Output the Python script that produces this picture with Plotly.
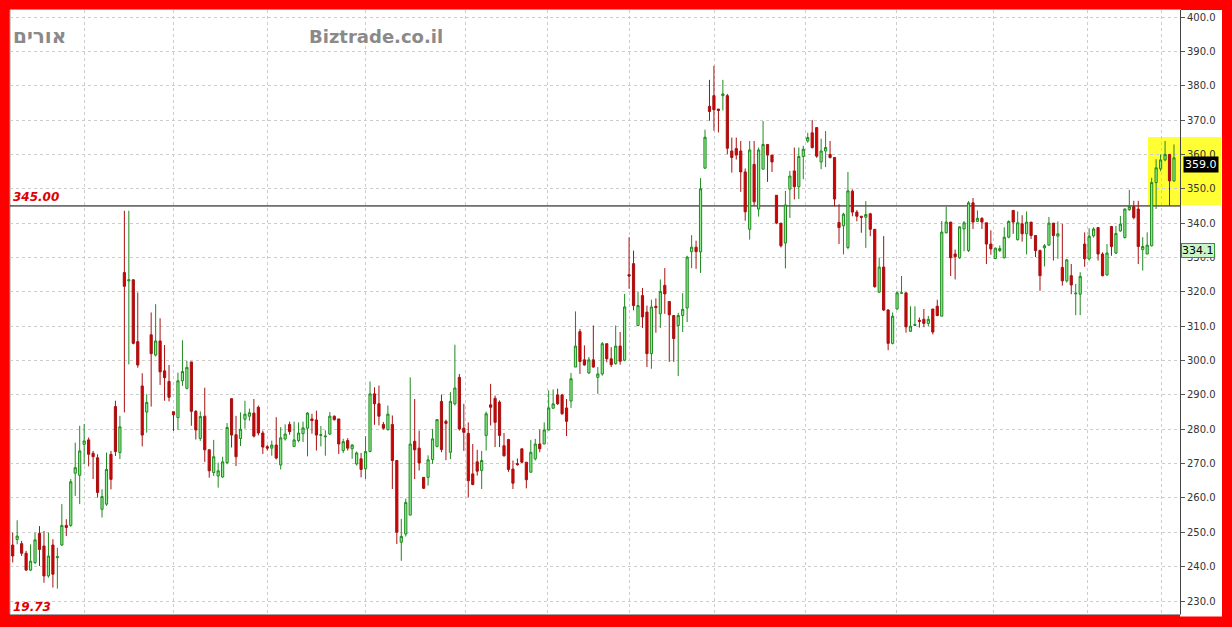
import plotly.graph_objects as go

# ---------------- data ----------------
opens = [246.3, 247.9, 246.7, 243.9, 239.0, 241.2, 249.7, 246.0, 237.3, 246.3,
         242.6, 246.3, 252.0, 252.0, 267.2, 266.6, 275.6, 276.9, 273.0, 271.7,
         256.7, 258.2, 272.7, 286.6, 273.2, 325.6, 323.2, 323.5, 305.5, 292.6,
         285.0, 307.5, 301.6, 305.7, 297.0, 293.9, 285.1, 283.4, 294.1, 291.9,
         299.6, 285.2, 277.3, 283.8, 274.0, 267.4, 266.4, 266.1, 270.3, 288.9,
         278.4, 277.3, 282.9, 283.8, 284.7, 286.4, 278.9, 274.9, 274.5, 275.4,
         269.6, 277.2, 281.4, 275.0, 276.7, 278.7, 280.3, 283.0, 282.7, 278.2,
         277.8, 278.6, 283.8, 283.0, 273.8, 276.7, 274.3, 269.9, 271.4, 268.5,
         273.5, 290.3, 287.4, 281.4, 279.9, 281.4, 270.9, 247.1, 249.5, 255.0,
         276.5, 274.5, 266.0, 266.0, 271.2, 275.0, 288.1, 282.3, 273.3, 287.4,
         295.1, 280.3, 278.8, 267.0, 270.5, 268.0, 278.2, 287.1, 289.0, 287.9,
         275.2, 277.0, 268.4, 270.0, 274.3, 270.4, 267.5, 271.4, 275.7, 275.7,
         279.8, 286.1, 290.0, 290.0, 286.2, 288.2, 298.1, 308.4, 300.2, 296.4,
         300.2, 295.1, 296.1, 304.9, 300.5, 299.1, 304.2, 300.1, 325.0, 328.2,
         310.2, 318.9, 314.1, 302.0, 315.8, 313.6, 321.9, 317.2, 313.1, 310.2,
         313.1, 315.3, 331.7, 333.0, 331.6, 356.0, 374.0, 377.1, 373.2, 377.1,
         377.1, 361.0, 361.7, 361.0, 354.9, 338.2, 357.1, 344.1, 355.7, 362.9,
         359.8, 348.1, 340.0, 334.2, 349.9, 355.2, 350.6, 359.4, 363.9, 366.3,
         367.8, 357.8, 361.0, 360.0, 359.1, 340.2, 339.2, 332.9, 349.3, 343.2,
         342.0, 341.7, 342.7, 338.2, 319.9, 327.2, 314.7, 305.0, 315.0, 319.6,
         319.7, 308.5, 310.2, 311.7, 312.0, 310.8, 315.0, 315.8, 312.9, 337.2,
         340.3, 331.0, 329.9, 338.3, 332.0, 345.9, 340.5, 341.4, 340.1, 333.9,
         329.7, 332.0, 329.9, 335.9, 343.7, 335.2, 339.8, 336.9, 340.3, 336.4,
         332.0, 332.8, 333.6, 340.0, 336.2, 327.1, 323.2, 324.7, 319.4, 319.3,
         333.9, 329.6, 336.3, 338.7, 331.0, 324.9, 339.0, 331.3, 337.7, 335.8,
         343.9, 344.8, 344.1, 332.3, 331.0, 333.4, 351.8, 355.8, 358.4, 360.0,
         352.3]
highs = [249.9, 253.5, 247.5, 244.6, 246.5, 249.9, 251.8, 250.4, 249.9, 248.0,
         245.5, 258.2, 253.8, 265.5, 276.1, 281.0, 281.5, 277.6, 273.7, 272.7,
         262.5, 273.2, 273.7, 288.3, 283.9, 343.6, 343.6, 323.6, 319.8, 296.3,
         290.2, 314.0, 316.4, 312.3, 304.5, 298.7, 285.1, 296.5, 305.9, 299.9,
         299.6, 285.6, 285.2, 292.1, 274.2, 276.9, 270.3, 272.0, 281.8, 288.9,
         283.9, 284.9, 288.3, 286.0, 288.8, 286.9, 279.6, 275.4, 276.7, 283.5,
         280.6, 281.4, 282.2, 282.2, 282.0, 282.2, 285.0, 284.5, 285.4, 280.9,
         279.7, 285.0, 284.0, 283.0, 277.2, 277.4, 275.7, 273.5, 273.1, 278.0,
         293.9, 292.2, 292.7, 282.1, 286.9, 284.0, 270.9, 253.9, 259.8, 295.1,
         288.8, 279.6, 266.0, 272.4, 280.1, 282.9, 290.1, 282.8, 290.8, 304.6,
         296.1, 287.4, 282.0, 275.7, 274.0, 273.7, 285.1, 293.2, 289.8, 288.4,
         278.9, 277.2, 270.9, 271.5, 274.3, 270.4, 276.9, 277.2, 279.9, 282.0,
         291.3, 291.6, 291.8, 290.3, 288.8, 296.4, 314.3, 309.2, 304.4, 301.0,
         310.2, 298.1, 305.4, 304.9, 303.9, 310.2, 308.3, 319.4, 335.9, 332.0,
         320.1, 321.1, 316.0, 317.7, 318.1, 323.6, 326.9, 317.2, 313.1, 313.9,
         319.6, 330.5, 336.5, 334.9, 353.1, 367.2, 381.7, 385.8, 373.2, 381.7,
         377.6, 364.9, 364.9, 363.9, 355.9, 363.9, 363.9, 362.0, 369.7, 362.9,
         359.8, 348.1, 340.0, 349.4, 355.2, 362.0, 362.0, 362.5, 366.3, 370.0,
         367.8, 364.6, 366.8, 363.9, 359.1, 345.5, 343.0, 354.9, 349.8, 343.8,
         342.0, 346.4, 343.0, 338.2, 330.0, 336.2, 314.9, 314.0, 320.2, 324.6,
         319.7, 315.8, 315.8, 312.5, 315.0, 313.0, 315.0, 317.7, 340.6, 344.8,
         340.3, 332.3, 339.1, 340.6, 346.4, 347.3, 343.7, 341.7, 340.1, 337.9,
         332.9, 333.5, 338.8, 340.8, 343.7, 343.4, 342.3, 343.4, 340.3, 336.4,
         332.3, 333.9, 341.8, 340.0, 340.5, 339.8, 329.6, 328.1, 322.3, 325.7,
         337.3, 338.5, 338.8, 338.7, 331.5, 333.9, 339.2, 339.2, 342.1, 344.3,
         349.7, 346.5, 346.5, 335.9, 337.3, 353.2, 358.6, 360.0, 363.9, 360.0,
         362.9]
lows = [241.2, 246.5, 243.1, 238.8, 238.7, 240.7, 240.2, 235.3, 236.8, 233.9,
        233.6, 246.0, 248.9, 251.6, 260.6, 258.2, 269.8, 269.2, 265.5, 260.1,
        254.3, 257.7, 262.5, 272.2, 271.3, 284.9, 298.9, 304.7, 297.9, 275.0,
        279.0, 286.6, 301.2, 292.9, 288.3, 288.1, 279.5, 279.8, 292.6, 291.6,
        281.0, 277.0, 276.6, 270.5, 265.9, 266.4, 263.0, 265.9, 269.8, 274.7,
        269.3, 275.1, 280.2, 282.5, 277.6, 278.2, 272.8, 273.8, 272.3, 271.2,
        268.3, 276.7, 278.4, 274.8, 276.2, 276.3, 272.1, 278.7, 273.8, 275.0,
        272.3, 278.3, 282.5, 272.8, 273.1, 273.8, 271.4, 269.4, 266.0, 265.5,
        273.3, 281.3, 281.1, 279.9, 279.6, 262.6, 246.6, 241.7, 248.8, 255.0,
        265.5, 268.0, 262.6, 263.6, 269.9, 274.7, 273.3, 271.0, 271.3, 286.9,
        279.6, 273.7, 260.2, 263.7, 266.5, 262.6, 273.8, 281.1, 274.8, 274.8,
        272.0, 267.6, 262.6, 269.4, 270.2, 262.8, 267.3, 270.9, 273.3, 275.7,
        279.6, 286.1, 287.1, 284.2, 278.0, 286.2, 298.1, 296.1, 298.5, 296.1,
        297.9, 290.3, 295.6, 299.5, 298.1, 298.8, 298.8, 299.8, 320.9, 314.6,
        310.0, 309.5, 298.1, 297.6, 308.1, 309.5, 313.6, 299.6, 299.6, 295.5,
        308.3, 311.2, 326.9, 326.7, 325.5, 355.8, 369.8, 366.9, 366.4, 372.8,
        360.0, 354.7, 358.5, 349.1, 340.7, 335.2, 345.0, 341.9, 355.7, 352.0,
        354.9, 339.7, 332.9, 326.8, 341.5, 346.9, 347.0, 352.8, 363.4, 361.7,
        359.0, 355.7, 356.3, 358.8, 344.9, 333.9, 330.9, 332.4, 342.0, 340.5,
        337.2, 332.8, 336.2, 321.2, 319.7, 314.4, 303.0, 304.7, 314.8, 319.5,
        308.1, 308.3, 310.0, 309.6, 309.7, 310.0, 307.6, 312.9, 312.9, 337.0,
        324.6, 323.6, 329.6, 331.8, 331.6, 338.3, 340.3, 338.3, 328.1, 330.8,
        329.5, 331.6, 329.7, 335.6, 336.9, 334.9, 334.6, 330.9, 335.4, 330.1,
        320.3, 327.4, 333.4, 329.1, 329.6, 321.8, 322.7, 319.3, 313.2, 313.2,
        327.3, 329.1, 335.8, 329.1, 324.5, 324.7, 330.5, 331.0, 337.5, 335.5,
        343.6, 341.1, 328.1, 326.2, 331.0, 333.2, 344.1, 355.1, 358.0, 345.0,
        352.0]
closes = [243.1, 248.9, 243.9, 239.0, 241.6, 247.8, 245.0, 237.3, 243.1, 237.8,
          242.9, 252.0, 251.4, 264.7, 268.8, 273.7, 276.6, 272.7, 272.0, 261.6,
          260.4, 268.3, 265.4, 273.5, 280.7, 321.6, 323.5, 305.0, 298.7, 278.3,
          287.8, 302.0, 305.7, 296.7, 295.0, 289.3, 284.2, 294.1, 296.8, 298.0,
          285.2, 279.8, 283.7, 274.0, 267.9, 272.0, 267.9, 270.5, 280.5, 278.3,
          272.0, 280.0, 284.4, 284.8, 278.0, 278.9, 274.8, 274.5, 275.4, 271.6,
          277.5, 278.6, 279.3, 276.9, 278.9, 280.4, 284.7, 282.5, 278.3, 278.4,
          278.0, 283.8, 282.8, 275.7, 276.4, 274.5, 275.4, 273.1, 268.3, 273.5,
          290.3, 287.4, 283.8, 280.3, 284.4, 270.9, 250.0, 248.8, 258.7, 275.7,
          274.0, 270.2, 262.8, 271.1, 277.2, 282.8, 274.1, 281.7, 288.1, 292.0,
          280.1, 279.1, 265.0, 263.9, 267.8, 270.9, 284.5, 286.4, 282.0, 278.2,
          272.3, 268.3, 264.3, 269.7, 270.4, 265.3, 273.3, 275.7, 274.3, 279.8,
          286.2, 287.4, 287.4, 284.5, 282.3, 294.7, 304.2, 299.7, 298.7, 300.2,
          298.1, 296.1, 304.9, 300.5, 298.8, 304.2, 299.8, 315.6, 324.6, 316.0,
          316.0, 312.7, 302.0, 315.6, 315.4, 320.1, 319.4, 313.3, 306.4, 313.1,
          314.9, 330.1, 333.0, 331.7, 350.0, 365.0, 372.5, 373.0, 372.8, 377.6,
          361.8, 359.1, 359.8, 354.9, 343.3, 361.3, 346.2, 361.3, 362.9, 359.8,
          357.8, 340.0, 333.4, 345.3, 353.7, 350.6, 359.4, 361.5, 364.9, 362.0,
          359.5, 361.0, 362.0, 359.1, 347.0, 338.7, 342.6, 349.4, 343.2, 342.0,
          341.7, 342.5, 338.2, 321.5, 327.2, 314.7, 305.0, 312.9, 319.7, 319.7,
          309.8, 310.0, 310.5, 311.4, 310.8, 312.0, 308.3, 313.1, 337.4, 340.3,
          329.9, 330.2, 338.9, 340.1, 345.9, 340.3, 341.4, 340.3, 333.9, 332.5,
          332.7, 332.6, 335.9, 340.5, 340.3, 340.1, 336.9, 340.3, 336.4, 332.0,
          324.7, 333.4, 340.0, 336.4, 336.9, 323.2, 329.3, 322.0, 319.6, 324.5,
          329.6, 336.2, 338.3, 331.0, 324.7, 331.3, 333.2, 337.0, 339.7, 344.1,
          344.8, 341.6, 333.2, 333.2, 333.6, 351.8, 356.1, 358.4, 360.0, 352.3,
          359.0]
bars = list(range(len(opens)))

# month separators (bar positions) and reference levels
month_breaks = [16, 36, 57, 79, 101.3, 119.8, 138, 157.2, 177.4, 197.8, 219.7, 240.7, 257.1]
y_ticks = [230, 240, 250, 260, 270, 280, 290, 300, 310, 320, 330, 340, 350, 360, 370, 380, 390, 400]
support_level = 345.0
zone_low, zone_high = 345.3, 365.1
last_label = "359.0"
ma_label = "334.1"
ma_label_y = 332.1
last_label_y = 357.0
low_text = "19.73"
title_left = "אורים"
title_site = "Biztrade.co.il"

# ---------------- figure ----------------
W, H = 1232, 627
ML, MR, MT, MB = 10, 52, 10, 13
PW = W - ML - MR
PH = H - MT - MB

x_left = -(12.7 - ML) / 4.4665
x_right = x_left + PW / 4.4665
y_bottom = 230 - (614 - 601) / 3.435
y_top = 400 + (17 - 10) / 3.435

def px2paper(px):
    return (px - ML) / PW

def py2paper(py):
    return (H - MB - py) / PH

def val2paper(v):
    return (v - y_bottom) / (y_top - y_bottom)

fig = go.Figure()
fig.add_trace(go.Candlestick(
    x=bars, open=opens, high=highs, low=lows, close=closes,
    increasing=dict(line=dict(color="#1f8a1f", width=1), fillcolor="#90ee90"),
    decreasing=dict(line=dict(color="#a81010", width=1), fillcolor="#d00000"),
    whiskerwidth=0, hoverinfo="skip", showlegend=False,
))

shapes = [
    # white strip behind the price axis
    dict(type="rect", xref="paper", yref="paper", x0=1, x1=px2paper(1222), y0=-0.004, y1=1,
         fillcolor="white", line=dict(width=0), layer="below"),
    # yellow highlight zone
    dict(type="rect", xref="paper", yref="paper", x0=px2paper(1148), x1=px2paper(1221),
         y0=val2paper(zone_low), y1=val2paper(zone_high), fillcolor="#ffff33",
         line=dict(width=0), layer="below"),
    # left border line of the plot
    dict(type="line", xref="paper", yref="paper", x0=0, x1=0, y0=0, y1=1,
         line=dict(color="#9a9a9a", width=1), layer="below"),
    # support line
    dict(type="line", xref="paper", yref="y", x0=0, x1=1, y0=support_level, y1=support_level,
         line=dict(color="#000000", width=1), layer="below"),
]

annotations = [
    dict(text="<b>" + title_left + "</b>", xref="paper", yref="paper", x=px2paper(11), y=py2paper(36),
         xanchor="left", yanchor="middle", showarrow=False,
         font=dict(family="DejaVu Sans", size=20, color="#8a8a8a")),
    dict(text="<b>" + title_site + "</b>", xref="paper", yref="paper", x=px2paper(375.5), y=py2paper(36),
         xanchor="center", yanchor="middle", showarrow=False,
         font=dict(family="DejaVu Sans", size=18, color="#8a8a8a")),
    dict(text="<b><i>345.00</i></b>", xref="paper", yref="y", x=px2paper(11), y=support_level,
         xanchor="left", yanchor="bottom", yshift=0, showarrow=False,
         font=dict(family="DejaVu Sans", size=12, color="#e00000")),
    dict(text="<b><i>" + low_text + "</i></b>", xref="paper", yref="paper", x=px2paper(11), y=py2paper(607),
         xanchor="left", yanchor="middle", showarrow=False,
         font=dict(family="DejaVu Sans", size=12, color="#e00000")),
    dict(text=last_label, xref="paper", yref="y", x=px2paper(1183), y=last_label_y,
         xanchor="left", yanchor="middle", showarrow=False, bgcolor="#000000", borderpad=1,
         font=dict(family="DejaVu Sans", size=11, color="#ffffff")),
    dict(text=ma_label, xref="paper", yref="y", x=px2paper(1181), y=ma_label_y,
         xanchor="left", yanchor="middle", showarrow=False, bgcolor="#c9f5c9",
         bordercolor="#2e9a2e", borderwidth=1, borderpad=0,
         font=dict(family="DejaVu Sans", size=11, color="#000000")),
]

fig.update_layout(
    width=W, height=H,
    margin=dict(l=ML, r=MR, t=MT, b=MB, pad=0),
    paper_bgcolor="#ff0000",
    plot_bgcolor="#ffffff",
    showlegend=False,
    hovermode=False,
    shapes=shapes,
    annotations=annotations,
    xaxis=dict(
        range=[x_left, x_right], rangeslider=dict(visible=False),
        tickmode="array", tickvals=month_breaks, showticklabels=False, ticks="",
        showgrid=True, gridcolor="#cccccc", griddash="dot", gridwidth=1,
        zeroline=False, showline=True, linecolor="#a0a0a0", mirror=True,
    ),
    yaxis=dict(
        side="right", range=[y_bottom, y_top],
        tickmode="array", tickvals=y_ticks, ticktext=[f"{v:.1f}" for v in y_ticks],
        showgrid=True, gridcolor="#cccccc", griddash="dot", gridwidth=1,
        zeroline=False, showline=True, linecolor="#444444",
        ticks="outside", ticklen=4, tickcolor="#555555",
        tickfont=dict(family="DejaVu Sans", size=10, color="#333333"),
    ),
)

fig.write_html(
    "out.html",
    config={"displayModeBar": False, "staticPlot": True},
    post_script="document.body.style.margin='0';document.body.style.padding='0';",
)
